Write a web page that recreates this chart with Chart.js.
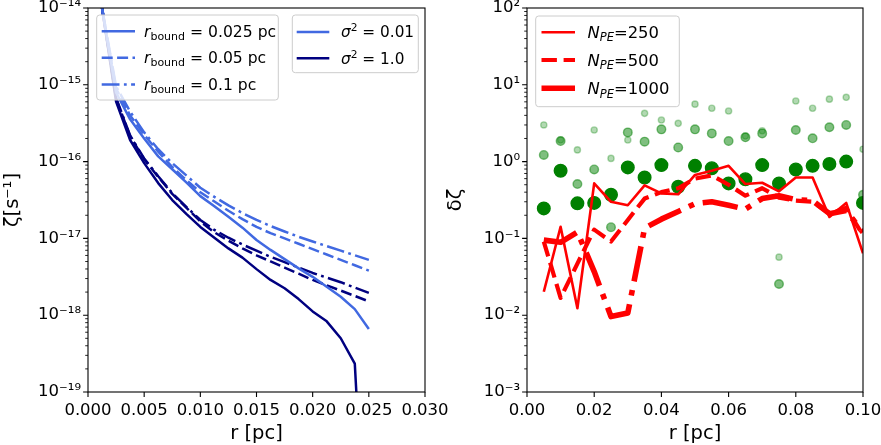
<!DOCTYPE html>
<html>
<head>
<meta charset="utf-8">
<script src="https://cdn.jsdelivr.net/npm/chart.js@4.4.1/dist/chart.umd.min.js"></script>
<style>
html,body{margin:0;padding:0;background:#fff;overflow:hidden}
#wrap{position:relative;width:881px;height:445px}
canvas{position:absolute;left:0;top:0}
</style>
</head>
<body>
<div id="wrap">
<canvas id="left" width="881" height="445" style="width:881px;height:445px"></canvas>
<canvas id="right" width="881" height="445" style="width:881px;height:445px"></canvas>
</div>
<script>
// ---------------- data: left panel (zeta vs r) ----------------
const rLeft = [0.00125,0.0025,0.00375,0.005,0.00625,0.0075,0.00875,0.01,0.01125,0.0125,0.01375,0.015,0.01625,0.0175,0.01875,0.02,0.02125,0.0225,0.02375,0.025];
const zeta_s001_r0025 = [1.0e-14,7.94e-16,3.55e-16,2.0e-16,1.17e-16,7.94e-17,5.37e-17,3.55e-17,2.63e-17,1.91e-17,1.38e-17,9.55e-18,7.08e-18,5.37e-18,4.07e-18,3.16e-18,2.34e-18,1.74e-18,1.2e-18,6.61e-19];
const zeta_s001_r005 = [1.0e-14,8.91e-16,3.98e-16,2.24e-16,1.35e-16,8.51e-17,5.75e-17,3.98e-17,3.02e-17,2.29e-17,1.78e-17,1.41e-17,1.17e-17,1.0e-17,8.51e-18,7.24e-18,6.17e-18,5.25e-18,4.47e-18,3.8e-18];
const zeta_s001_r01 = [1.0e-14,9.55e-16,4.47e-16,2.4e-16,1.45e-16,9.55e-17,6.61e-17,4.57e-17,3.47e-17,2.69e-17,2.14e-17,1.74e-17,1.45e-17,1.23e-17,1.05e-17,9.12e-18,7.94e-18,6.92e-18,6.03e-18,5.25e-18];
const zeta_s1_r0025 = [1.0e-14,6.03e-16,1.91e-16,9.55e-17,5.25e-17,3.16e-17,2.09e-17,1.41e-17,1.02e-17,7.41e-18,5.62e-18,3.98e-18,2.88e-18,2.24e-18,1.62e-18,1.12e-18,8.32e-19,5.01e-19,2.34e-19,1.0e-22];
const zeta_s1_r005 = [1.0e-14,6.61e-16,2.14e-16,1.07e-16,6.31e-17,3.8e-17,2.51e-17,1.66e-17,1.2e-17,9.33e-18,7.41e-18,6.03e-18,5.01e-18,4.17e-18,3.47e-18,2.88e-18,2.45e-18,2.09e-18,1.78e-18,1.51e-18];
const zeta_s1_r01 = [1.0e-14,6.76e-16,2.19e-16,1.1e-16,6.46e-17,3.89e-17,2.57e-17,1.74e-17,1.29e-17,1.02e-17,8.32e-18,6.92e-18,5.75e-18,4.9e-18,4.17e-18,3.55e-18,3.09e-18,2.69e-18,2.29e-18,1.95e-18];

// ---------------- data: right panel (delta zeta vs r) ----------------
const rRight = [0.005,0.01,0.015,0.02,0.025,0.03,0.035,0.04,0.045,0.05,0.055,0.06,0.065,0.07,0.075,0.08,0.085,0.09,0.095,0.1];
const dz_N250 = [0.0202,0.142,0.0123,0.52,0.30,0.27,0.49,0.386,0.375,0.67,0.76,0.88,0.51,0.53,0.41,0.62,0.62,0.19,0.29,0.064];
const dz_N500 = [0.091,0.0168,0.047,0.13,0.091,0.174,0.33,0.40,0.45,0.60,0.66,0.50,0.36,0.45,0.34,0.31,0.30,0.21,0.25,0.11];
const dz_N1000 = [0.095,0.089,0.121,0.037,0.0096,0.0107,0.136,0.178,0.224,0.283,0.30,0.27,0.24,0.33,0.36,0.32,0.31,0.21,0.23,0.12];
const ptsLarge = [0.246,0.76,0.286,0.29,0.37,0.84,0.62,0.90,0.47,0.88,0.82,0.52,0.59,0.90,0.52,0.79,0.88,0.93,1.0,0.29];
const ptsMedium = [1.22,1.85,0.51,0.79,0.14,2.4,1.82,2.63,1.53,2.63,2.33,1.85,2.07,2.33,0.0255,2.58,2.01,2.8,3.0,0.37];
const ptsSmall = [3.0,1.91,1.42,2.58,1.1,1.91,4.25,3.48,3.15,5.6,4.95,4.56,2.15,2.52,0.057,6.15,4.95,6.5,6.87,1.45];

// ---------------- ticks ----------------
const leftXTicks = [0,0.005,0.01,0.015,0.02,0.025,0.03];
const leftXTickLabels = ['0.000','0.005','0.010','0.015','0.020','0.025','0.030'];
const leftYTicks = [1e-19,1e-18,1e-17,1e-16,1e-15,1e-14];
const leftYTickLabels = ['10\u207B\u00B9\u2079','10\u207B\u00B9\u2078','10\u207B\u00B9\u2077','10\u207B\u00B9\u2076','10\u207B\u00B9\u2075','10\u207B\u00B9\u2074'];
const rightXTicks = [0,0.02,0.04,0.06,0.08,0.1];
const rightXTickLabels = ['0.00','0.02','0.04','0.06','0.08','0.10'];
const rightYTicks = [1e-3,1e-2,1e-1,1,10,100];
const rightYTickLabels = ['10\u207B\u00B3','10\u207B\u00B2','10\u207B\u00B9','10\u2070','10\u00B9','10\u00B2'];

// ---------------- legend texts ----------------
const rboundLabels = ['0.025', '0.05', '0.1'];
const sigmaLabels = ['0.01', '1.0'];
const npeLabels = ['250', '500', '1000'];

const FAM = '"DejaVu Sans"';
const ROYAL = '#4169e1', NAVY = '#000080', RED = '#ff0000';
const DASH_L = [11, 4.4], DASHDOT_L = [17.8, 4.4, 2.8, 4.4];
const DASH_R = [15.4, 6.7], DASHDOT_R = [35.6, 8.9, 5.6, 8.9];

function xy(xs, ys){ return xs.map((x,i)=>({x:x, y:ys[i]})); }
function lineDS(label, xs, ys, color, width, dash, order){
  return {label, data: xy(xs, ys), borderColor: color, backgroundColor: color, borderWidth: width,
    borderDash: dash, borderCapStyle: 'butt', borderJoinStyle: 'round', pointRadius: 0, pointHoverRadius: 0,
    tension: 0, fill: false, clip: 0, order};
}
function dotDS(label, xs, ys, color, r, order){
  return {label, data: xy(xs, ys), showLine: false, pointRadius: r, pointHoverRadius: r,
    pointBackgroundColor: color, pointBorderColor: color, pointBorderWidth: 1.4, clip: 0, order};
}

function drawRich(ctx, x, base, parts, size){
  let cx = x;
  ctx.fillStyle = '#000';
  ctx.textBaseline = 'alphabetic';
  ctx.textAlign = 'left';
  parts.forEach(p => {
    const s = p.s || size;
    ctx.font = (p.i ? 'italic ' : '') + s + 'px ' + FAM;
    ctx.fillText(p.t, cx, base + (p.dy || 0));
    cx += ctx.measureText(p.t).width;
  });
}
function rrect(ctx, x, y, w, h, r){
  ctx.beginPath();
  ctx.moveTo(x + r, y);
  ctx.arcTo(x + w, y, x + w, y + h, r);
  ctx.arcTo(x + w, y + h, x, y + h, r);
  ctx.arcTo(x, y + h, x, y, r);
  ctx.arcTo(x, y, x + w, y, r);
  ctx.closePath();
}

const deco = {
  id: 'deco',
  afterDraw(chart, args, o){
    const ctx = chart.ctx, a = chart.chartArea, xs = chart.scales.x, ys = chart.scales.y;
    ctx.save();
    ctx.strokeStyle = '#000';
    ctx.lineCap = 'butt';
    ctx.setLineDash([]);
    ctx.lineWidth = 1.1;
    ctx.beginPath();
    o.xTicks.forEach(v => { const p = xs.getPixelForValue(v); ctx.moveTo(p, a.bottom); ctx.lineTo(p, a.bottom + 4.9); });
    o.yTicks.forEach(v => { const p = ys.getPixelForValue(v); ctx.moveTo(a.left - 4.9, p); ctx.lineTo(a.left, p); });
    ctx.stroke();
    ctx.lineWidth = 0.85;
    ctx.beginPath();
    for (let i = 0; i < o.yTicks.length - 1; i++) {
      for (let m = 2; m <= 9; m++) {
        const p = ys.getPixelForValue(o.yTicks[i] * m);
        ctx.moveTo(a.left - 2.8, p); ctx.lineTo(a.left, p);
      }
    }
    ctx.stroke();
    ctx.lineWidth = 1.1;
    ctx.strokeRect(a.left, a.top, a.right - a.left, a.bottom - a.top);

    o.legends.forEach(L => {
      rrect(ctx, L.box[0], L.box[1], L.box[2], L.box[3], 3);
      ctx.fillStyle = 'rgba(255,255,255,0.8)';
      ctx.fill();
      ctx.strokeStyle = '#cccccc';
      ctx.lineWidth = 1;
      ctx.stroke();
      L.rows.forEach(r => {
        ctx.strokeStyle = r.color;
        ctx.lineWidth = r.width;
        ctx.setLineDash(r.dash || []);
        ctx.beginPath();
        ctx.moveTo(L.hx0, r.y); ctx.lineTo(L.hx1, r.y);
        ctx.stroke();
        ctx.setLineDash([]);
        drawRich(ctx, L.tx, r.base, r.parts, L.size);
      });
    });
    ctx.restore();
  }
};

function makeScales(cfg){
  const zero = s => { s.paddingLeft = 0; s.paddingRight = 0; s.paddingTop = 0; s.paddingBottom = 0; };
  return {
    x: {
      type: 'linear', min: cfg.xMin, max: cfg.xMax,
      grid: {display: false, drawTicks: false}, border: {display: false},
      afterBuildTicks: s => { s.ticks = cfg.xTicks.map(v => ({value: v})); },
      afterFit: s => { s.height = 53; zero(s); },
      ticks: {autoSkip: false, maxRotation: 0, minRotation: 0, padding: 9, color: '#000',
        font: {family: 'DejaVu Sans', size: 16.5, lineHeight: 1.2},
        callback: (v, i) => cfg.xLabels[i]},
      title: {display: true, text: 'r [pc]', color: '#000',
        font: {family: 'DejaVu Sans', size: 19.5, lineHeight: 1.1}, padding: {top: 0, bottom: 0}}
    },
    y: {
      type: 'logarithmic', min: cfg.yMin, max: cfg.yMax,
      grid: {display: false, drawTicks: false}, border: {display: false},
      afterBuildTicks: s => { s.ticks = cfg.yTicks.map(v => ({value: v, major: true})); },
      afterFit: s => { s.width = cfg.yWidth; zero(s); },
      ticks: {autoSkip: false, padding: 7, color: '#000',
        font: {family: 'DejaVu Sans', size: 16.5, lineHeight: 1.0},
        callback: (v, i) => cfg.yLabels[i]},
      title: {display: true, text: cfg.yTitle, color: '#000',
        font: {family: 'DejaVu Sans', size: 19.5, lineHeight: 1.2}, padding: {top: cfg.yTitlePad, bottom: 0}}
    }
  };
}

// ---------------- left chart ----------------
new Chart(document.getElementById('left'), {
  type: 'line',
  data: {datasets: [
    lineDS('s001 r0025', rLeft, zeta_s001_r0025, ROYAL, 2.5, [], 0),
    lineDS('s001 r005', rLeft, zeta_s001_r005, ROYAL, 2.5, DASH_L, 1),
    lineDS('s001 r01', rLeft, zeta_s001_r01, ROYAL, 2.5, DASHDOT_L, 2),
    lineDS('s1 r0025', rLeft, zeta_s1_r0025, NAVY, 2.5, [], 3),
    lineDS('s1 r005', rLeft, zeta_s1_r005, NAVY, 2.5, DASH_L, 4),
    lineDS('s1 r01', rLeft, zeta_s1_r01, NAVY, 2.5, DASHDOT_L, 5)
  ]},
  options: {
    responsive: false, animation: false, events: [],
    layout: {padding: {left: 0, top: 8, right: 456, bottom: 0}},
    plugins: {
      legend: {display: false}, tooltip: {enabled: false},
      deco: {
        xTicks: leftXTicks, yTicks: leftYTicks,
        legends: [
          {box: [96.7, 15, 181.6, 85], hx0: 101.7, hx1: 135, tx: 144, size: 15.6,
           rows: rboundLabels.map((lab, i) => ({
             y: [31.2, 57.8, 84.5][i], base: [36.7, 63.3, 90][i], color: ROYAL, width: 2.5,
             dash: [[], DASH_L, DASHDOT_L][i],
             parts: [{t: 'r', i: true}, {t: 'bound', s: 11, dy: 3}, {t: ' = ' + lab + ' pc'}]
           }))},
          {box: [292.3, 15, 126, 57.7], hx0: 296.7, hx1: 329.3, tx: 341, size: 15.3,
           rows: sigmaLabels.map((lab, i) => ({
             y: [32, 58.3][i], base: [37.3, 63.5][i], color: [ROYAL, NAVY][i], width: 2.5, dash: [],
             parts: [{t: '\u03C3', i: true}, {t: '2', s: 10.7, dy: -6}, {t: ' = ' + lab}]
           }))}
        ]
      }
    },
    scales: makeScales({xMin: 0, xMax: 0.03, xTicks: leftXTicks, xLabels: leftXTickLabels,
      yMin: 1e-19, yMax: 1e-14, yTicks: leftYTicks, yLabels: leftYTickLabels,
      yTitle: '\u03B6[s\u207B\u00B9]', yTitlePad: 1.2, yWidth: 88})
  },
  plugins: [deco]
});

// ---------------- right chart ----------------
new Chart(document.getElementById('right'), {
  type: 'line',
  data: {datasets: [
    lineDS('N_PE=250', rRight, dz_N250, RED, 2.6, [], 0),
    lineDS('N_PE=500', rRight, dz_N500, RED, 4.2, DASH_R, 1),
    lineDS('N_PE=1000', rRight, dz_N1000, RED, 5.6, DASHDOT_R, 2),
    dotDS('large', rRight, ptsLarge, 'rgba(0,128,0,1)', 6.3, 3),
    dotDS('medium', rRight, ptsMedium, 'rgba(0,128,0,0.5)', 4.3, 4),
    dotDS('small', rRight, ptsSmall, 'rgba(0,128,0,0.3)', 3.1, 5)
  ]},
  options: {
    responsive: false, animation: false, events: [],
    layout: {padding: {left: 440, top: 8, right: 18, bottom: 0}},
    plugins: {
      legend: {display: false}, tooltip: {enabled: false},
      deco: {
        xTicks: rightXTicks, yTicks: rightYTicks,
        legends: [
          {box: [535.7, 16, 143.6, 90.7], hx0: 541.5, hx1: 575, tx: 587.5, size: 16.4,
           rows: npeLabels.map((lab, i) => ({
             y: [32.3, 60, 88.3][i], base: [37.7, 65.7, 94][i], color: RED, width: [2.6, 4.2, 5.6][i],
             dash: [[], DASH_R, DASHDOT_R][i],
             parts: [{t: 'N', i: true}, {t: 'PE', i: true, s: 11.5, dy: 3.5}, {t: '=' + lab}]
           }))}
        ]
      }
    },
    scales: makeScales({xMin: 0, xMax: 0.1, xTicks: rightXTicks, xLabels: rightXTickLabels,
      yMin: 1e-3, yMax: 100, yTicks: rightYTicks, yLabels: rightYTickLabels,
      yTitle: '\u03B4\u03B6', yTitlePad: 4.3, yWidth: 87})
  },
  plugins: [deco]
});
</script>
</body>
</html>
